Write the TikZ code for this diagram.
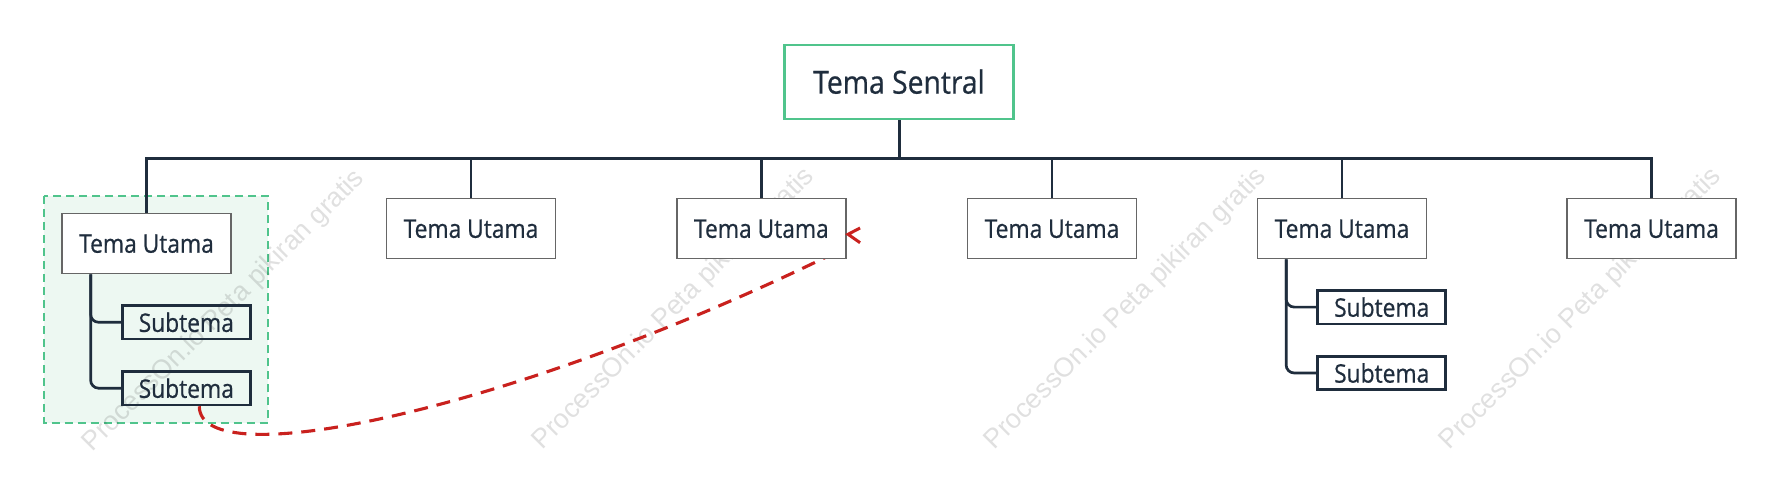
\documentclass[tikz,border=0pt]{standalone}
\usepackage{fontspec}
\setmainfont{Open Sans}[FakeStretch=0.89,FakeBold=0.6]
\newfontfamily\wmfont{Liberation Sans}
\usetikzlibrary{calc}
\definecolor{navy}{HTML}{1F2D3D}
\definecolor{boxgray}{HTML}{666666}
\definecolor{mintgreen}{HTML}{50C48C}
\definecolor{groupfill}{HTML}{EDF8F2}
\definecolor{linkred}{HTML}{C9211E}
\pgfdeclarelayer{lzero}
\pgfdeclarelayer{lone}
\pgfdeclarelayer{ltwo}
\pgfsetlayers{lzero,lone,ltwo,main}
\begin{document}
\begin{tikzpicture}[x=1pt,y=-1pt,
  central/.style={draw=mintgreen, line width=2.2pt, fill=white, minimum width=229pt, minimum height=74pt, inner sep=0pt, font=\fontsize{31.8}{36}\selectfont, text=navy},
  mainbox/.style={draw=boxgray, line width=1.3pt, fill=white, minimum width=169pt, minimum height=60pt, inner sep=0pt, font=\fontsize{25.6}{30}\selectfont, text=navy},
  subbox/.style={draw=navy, line width=2.6pt, minimum width=128pt, minimum height=33.5pt, inner sep=0pt, font=\fontsize{25.6}{30}\selectfont, text=navy},
  branch/.style={draw=navy, line width=2.2pt},
  subedge/.style={draw=navy, line width=2.7pt, rounded corners=8pt},
  link/.style={draw=linkred, line width=3.1pt, dash pattern=on 14pt off 9pt},
  groupbox/.style={draw=mintgreen, fill=groupfill, line width=2.3pt, dash pattern=on 8pt off 5pt},
  watermark/.style={font=\wmfont\fontsize{27}{30}\selectfont, text=black, text opacity=0.12, rotate=45, inner sep=0pt}
]
\useasboundingbox (0,0) rectangle (1782,495);

% nodes
\node[central] (c) at (899,81.7) {Tema Sentral};
\node[mainbox] (t1) at (146.5,243.7) {Tema Utama};
\node[mainbox] (t2) at (471,228.8) {Tema Utama};
\node[mainbox] (t3) at (761.4,228.8) {Tema Utama};
\node[mainbox] (t4) at (1052,228.8) {Tema Utama};
\node[mainbox] (t5) at (1342,228.8) {Tema Utama};
\node[mainbox] (t6) at (1651.5,228.8) {Tema Utama};
\node[subbox] (s1) at (186.3,322.3) {Subtema};
\node[subbox] (s2) at (186.3,388.2) {Subtema};
\node[subbox] (s3) at (1381.7,307.1) {Subtema};
\node[subbox] (s4) at (1381.7,373) {Subtema};
\coordinate (bus) at (899,158.5);

\begin{pgfonlayer}{lzero}
  \fill[white] (0,0) rectangle (1782,495);
  \draw[groupbox] (44.3,196) rectangle (268,422.7);
\end{pgfonlayer}

\begin{pgfonlayer}{lone}
  \node[watermark] (w1) at (224,311) {ProcessOn.io Peta pikiran gratis};
  \node[watermark] (w2) at (674,309) {ProcessOn.io Peta pikiran gratis};
  \node[watermark] (w3) at (1126,309) {ProcessOn.io Peta pikiran gratis};
  \node[watermark] (w4) at (1581,309) {ProcessOn.io Peta pikiran gratis};
\end{pgfonlayer}

\begin{pgfonlayer}{ltwo}
  \draw[branch, line width=3pt] (c.south) -- (bus);
  \foreach \t in {t1,t2,t3,t4,t5,t6} \draw[branch] (bus) -| (\t.north);
  \draw[branch, line width=3pt] (t2.north |- bus) -- (t4.north |- bus);
  \draw[subedge] ($(t1.south west)+(29.3,0)$) |- (s1.west);
  \draw[subedge] ($(t1.south west)+(29.3,0)$) |- (s2.west);
  \draw[subedge] ($(t5.south west)+(29.3,0)$) |- (s3.west);
  \draw[subedge] ($(t5.south west)+(29.3,0)$) |- (s4.west);
  \draw[link] ([xshift=13pt]s2.south) .. controls +(0,70) and (510,412) .. ($(t3.south east)+(-11,-7)$);
\end{pgfonlayer}

\draw[linkred, line width=3pt] ($(t3.east)+(13.5,-0.8)$) -- ($(t3.east)+(1.5,5.5)$) -- ($(t3.east)+(13.5,13.9)$);
\end{tikzpicture}
\end{document}
